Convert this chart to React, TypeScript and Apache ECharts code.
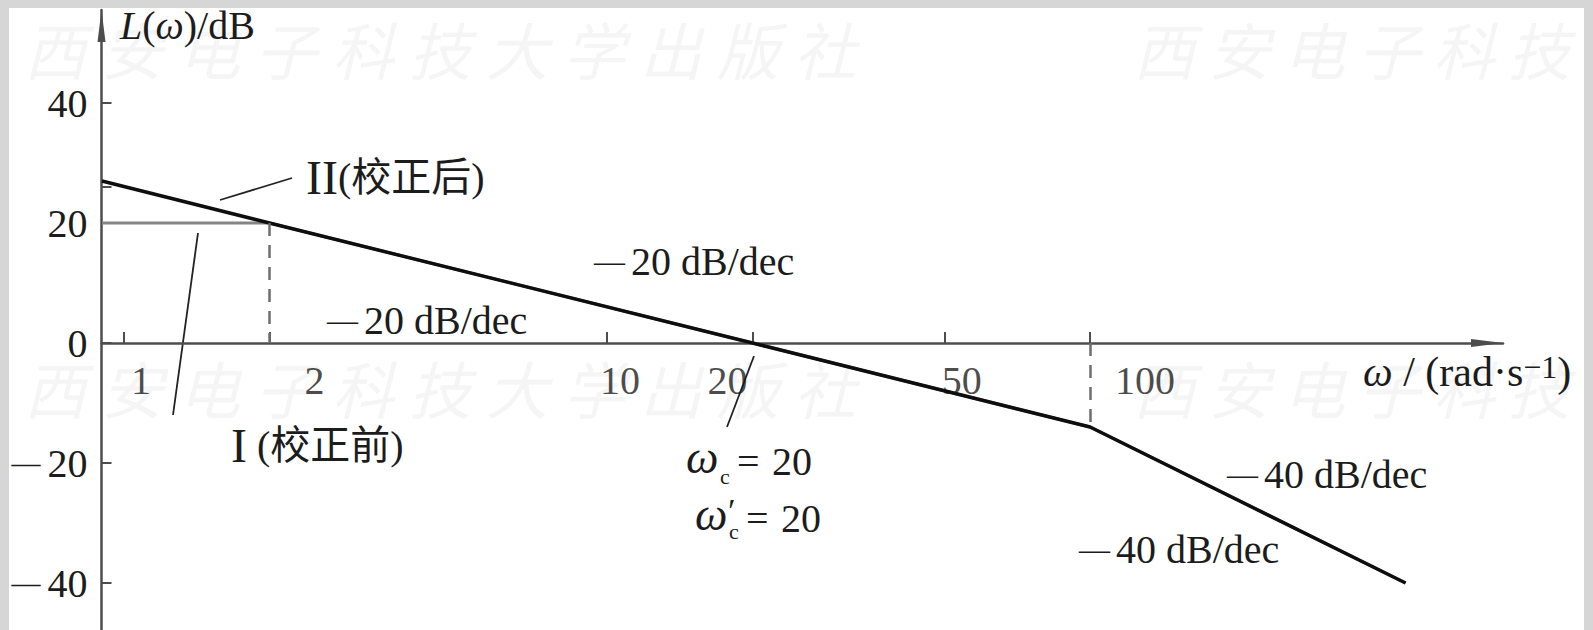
import React, { useEffect, useRef } from "react";
import * as echarts from "echarts";

const WIDTH = 1593;
const HEIGHT = 630;

// Asymptotic break points: angular frequency ω (rad/s) and magnitude L(ω) (dB)
const omega = [0.9, 2, 20, 100, 450];
const lBefore = [20, 20, 0, -14, -40]; // Ⅰ 校正前
const lAfter = [27, 20, 0, -14, -40]; // Ⅱ 校正后

// Axis ticks
const omegaTicks = [1, 2, 10, 20, 50, 100];
const dbTickLabels = [-40, -20, 0, 20, 40];
const dbTickMarks = [-40, -20, 0, 20, 26, 40];

// Axis ranges
const omegaMin = 0.898;
const omegaMax = 716;
const dbMin = -47.83;
const dbMax = 55.5;

// Horizontal nudge of each ω tick label (px)
const omegaLabelNudge = [17, 45, 13, -25, 17, 55];

const WATERMARK = "西安电子科技大学出版社";
const SERIF = "'Liberation Serif', 'Noto Sans CJK SC', serif";
const INK = "#1c1c1c";
const AXIS = "#4d4d4d";

function text(x: number, y: number, content: string, extra: any = {}) {
  return {
    type: "text",
    x,
    y,
    silent: true,
    style: {
      text: content,
      fill: INK,
      fontFamily: SERIF,
      fontSize: 40,
      align: "left",
      verticalAlign: "middle",
      ...extra,
    },
  };
}

function leader(x1: number, y1: number, x2: number, y2: number) {
  return {
    type: "line",
    silent: true,
    shape: { x1, y1, x2, y2 },
    style: { stroke: "#222", lineWidth: 1.8 },
  };
}

// "—20 dB/dec" style text: a shorter dash followed by a small gap
function slopeText(x: number, y: number, value: number) {
  return text(x, y, `{d|—}${value} dB/dec`, {
    rich: {
      d: { fontFamily: SERIF, fontSize: 31, fill: INK, padding: [0, 6, 0, 0] },
    },
  });
}

function buildOption() {
  const pairs = (ys: number[]) => omega.map((w, i) => [w, ys[i]]);

  const serifRoman = { fontFamily: SERIF, fontSize: 48, fill: INK };
  const italic = { fontFamily: SERIF, fontSize: 40, fontStyle: "italic", fill: INK };

  // faint publisher watermark, two rows
  const wm: any[] = [];
  [48, 387].forEach((cy) => {
    [
      { x0: 55, pitch: 77, n: 11 },
      { x0: 1164, pitch: 75, n: 6 },
    ].forEach((g) => {
      for (let i = 0; i < g.n; i++) {
        wm.push({
          type: "text",
          x: g.x0 + i * g.pitch,
          y: cy,
          silent: true,
          z: -5,
          style: {
            text: WATERMARK[i],
            fill: "#f5f5f5",
            fontFamily: "'Noto Sans CJK SC', sans-serif",
            fontSize: 62,
            fontStyle: "italic",
            align: "center",
            verticalAlign: "middle",
          },
        });
      }
    });
  });

  return {
    animation: false,
    backgroundColor: "transparent",
    grid: {
      left: 101.5,
      right: WIDTH - 1503,
      top: 10,
      bottom: 0,
      containLabel: false,
      outerBoundsMode: "none",
    },
    xAxis: {
      type: "log",
      logBase: 10,
      min: omegaMin,
      max: omegaMax,
      axisLine: {
        show: true,
        onZero: true,
        symbol: ["none", "triangle"],
        symbolSize: [8, 32],
        symbolOffset: [0, -16],
        lineStyle: { color: AXIS, width: 2.5 },
      },
      axisTick: {
        show: true,
        inside: true,
        length: 11,
        customValues: omegaTicks,
        lineStyle: { color: AXIS, width: 2 },
      },
      axisLabel: { show: false },
      splitLine: { show: false },
      minorTick: { show: false },
    },
    yAxis: {
      type: "value",
      min: dbMin,
      max: dbMax,
      axisLine: {
        show: true,
        onZero: false,
        symbol: ["none", "triangle"],
        symbolSize: [8, 32],
        symbolOffset: [0, -16],
        lineStyle: { color: AXIS, width: 2.5 },
      },
      axisTick: {
        show: true,
        inside: true,
        length: 10,
        customValues: dbTickMarks,
        lineStyle: { color: AXIS, width: 2 },
      },
      axisLabel: {
        show: true,
        customValues: dbTickLabels,
        margin: 14,
        color: INK,
        fontFamily: SERIF,
        fontSize: 40,
        formatter: (v: number) =>
          v < 0 ? `{d|—}{n|${Math.abs(v)}}` : `{n|${v}}`,
        rich: {
          d: { fontFamily: SERIF, fontSize: 29, color: INK, padding: [0, 7, 0, 0] },
          n: { fontFamily: SERIF, fontSize: 40, color: INK },
        },
      },
      splitLine: { show: false },
    },
    series: [
      {
        name: "Ⅰ(校正前)",
        type: "line",
        data: pairs(lBefore),
        symbol: "none",
        z: 2,
        lineStyle: { color: "#858585", width: 3 },
      },
      {
        name: "Ⅱ(校正后)",
        type: "line",
        data: pairs(lAfter),
        symbol: "none",
        z: 3,
        lineStyle: { color: "#0e0e0e", width: 3.5 },
        markLine: {
          silent: true,
          symbol: ["none", "none"],
          label: { show: false },
          lineStyle: { color: "#6e6e6e", width: 2.5, type: [13, 9] },
          data: [
            [{ coord: [omega[1], lAfter[1]] }, { coord: [omega[1], 0] }],
            [{ coord: [omega[3], 0] }, { coord: [omega[3], lAfter[3]] }],
          ],
        },
      },
      {
        // ω tick labels, hung below the 0 dB line
        name: "ω",
        type: "scatter",
        silent: true,
        symbolSize: 1,
        itemStyle: { color: "rgba(0,0,0,0)" },
        z: 1,
        data: omegaTicks.map((w, i) => ({
          value: [w, 0],
          label: { offset: [omegaLabelNudge[i], 37] },
        })),
        label: {
          show: true,
          position: "inside",
          color: INK,
          fontFamily: SERIF,
          fontSize: 40,
          formatter: (p: any) => String(p.value[0]),
        },
      },
    ],
    graphic: [
      {
        type: "rect",
        silent: true,
        z: -20,
        shape: { x: 0, y: 0, width: WIDTH, height: HEIGHT },
        style: { fill: "#d6d6d6" },
      },
      {
        type: "rect",
        silent: true,
        z: -19,
        shape: { x: 9, y: 8, width: 1575, height: HEIGHT - 8 },
        style: { fill: "#ffffff" },
      },
      ...wm,
      // axis titles
      text(120, 25, "{i|L}({i|ω})/dB", { rich: { i: italic } }),
      text(1363, 372, "{w|ω} / (rad·s{s|−1})", {
        fontSize: 42,
        rich: {
          w: { fontFamily: SERIF, fontSize: 42, fontStyle: "italic", fill: INK },
          s: {
            fontFamily: SERIF,
            fontSize: 32,
            lineHeight: 32,
            verticalAlign: "top",
            fill: INK,
          },
        },
      }),
      // curve labels and leaders
      text(306, 177, "{r|II}(校正后)", { rich: { r: serifRoman } }),
      leader(220, 200, 292, 178),
      text(231, 445, "{r|I} (校正前)", { rich: { r: serifRoman } }),
      leader(198, 233, 173, 415),
      // slopes
      slopeText(594, 261, 20),
      slopeText(327, 320, 20),
      slopeText(1227, 474, 40),
      slopeText(1079, 549, 40),
      // crossover frequency
      leader(754, 356, 727, 427),
      text(686, 457, "ω", { fontStyle: "italic", fontSize: 46 }),
      text(720, 476, "c", { fontSize: 22 }),
      text(737, 461, "=", {}),
      text(772, 461, "20", {}),
      text(695, 514, "ω", { fontStyle: "italic", fontSize: 46 }),
      text(726, 510, "′", { fontSize: 34, fontStyle: "italic" }),
      text(729, 531, "c", { fontSize: 22 }),
      text(746, 518, "=", {}),
      text(781, 518, "20", {}),
    ],
  };
}

export default function App() {
  const ref = useRef<HTMLDivElement>(null);
  useEffect(() => {
    document.body.style.margin = "0";
    if (!ref.current) return;
    const chart = echarts.init(ref.current, undefined, {
      renderer: "svg",
      width: WIDTH,
      height: HEIGHT,
    });
    chart.setOption(buildOption() as any);
    return () => chart.dispose();
  }, []);
  return <div ref={ref} style={{ width: WIDTH, height: HEIGHT }} />;
}
